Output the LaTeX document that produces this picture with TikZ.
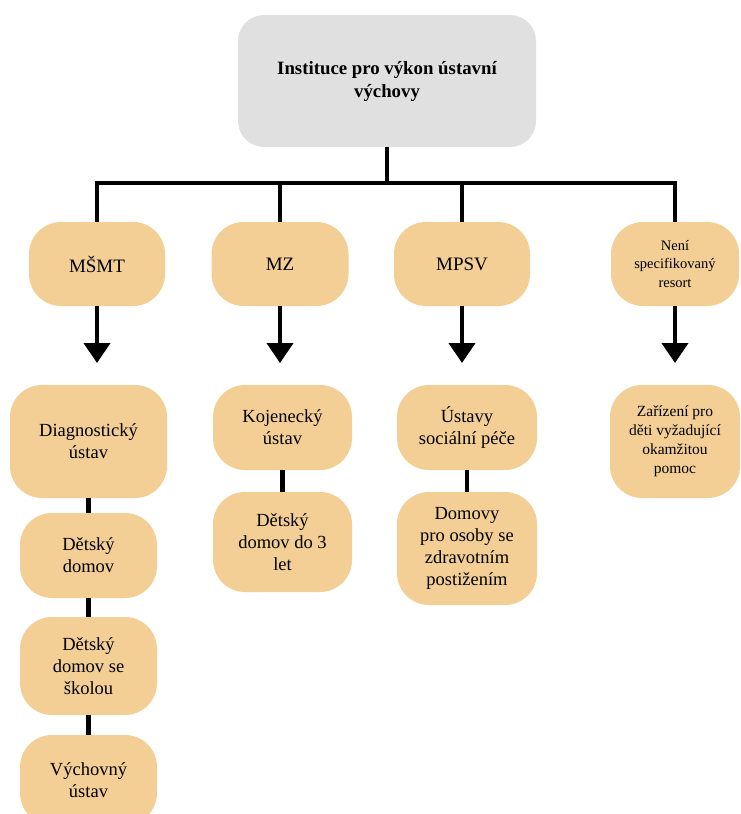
\documentclass[tikz,border=0pt]{standalone}
\usepackage{fontspec}
\setmainfont{Liberation Serif}
\usetikzlibrary{arrows.meta}
\definecolor{boxorange}{RGB}{243,206,149}
\definecolor{boxgray}{RGB}{224,224,224}
\begin{document}
\begin{tikzpicture}[x=1pt,y=-1pt,
  orgbox/.style={rectangle, rounded corners=32pt, fill=boxorange, align=center, inner sep=2pt, font=\fontsize{18.5}{22}\selectfont},
  topbox/.style={rectangle, rounded corners=26pt, fill=boxgray, align=center, inner sep=2pt, font=\bfseries\fontsize{18.8}{23}\selectfont, minimum width=298pt, minimum height=132pt},
  lvlone/.style={orgbox, minimum width=136pt, minimum height=84pt, font=\fontsize{19}{22}\selectfont},
  conn/.style={line width=4pt, black},
  arr/.style={line width=4pt, black, -{Triangle[width=26pt,length=20pt]}},
  link/.style={line width=4.5pt, black}
]
\useasboundingbox (0,0) rectangle (740,814);
\clip (0,0) rectangle (740,814);

\node[topbox] (top) at (387,81) {Instituce pro výkon ústavní\\výchovy};

\node[lvlone] (m1) at (97,264) {MŠMT};
\node[lvlone, minimum width=137pt] (m2) at (280,264) {MZ};
\node[lvlone] (m3) at (462,264) {MPSV};
\node[lvlone, minimum width=128pt, font=\fontsize{14.5}{18.5}\selectfont] (m4) at (675,264) {Není\\specifikovaný\\resort};

\coordinate (bus) at (387,183);
\draw[conn] (top.south) -- (bus);
\draw[conn] (m1.north) -- (m1.north |- bus) -- (m4.north |- bus) -- (m4.north);
\draw[conn] (m2.north) -- (m2.north |- bus);
\draw[conn] (m3.north) -- (m3.north |- bus);

\coordinate (a1) at (97,363);
\coordinate (a2) at (280,363);
\coordinate (a3) at (462,363);
\coordinate (a4) at (675,363);
\draw[arr] (m1.south) -- (a1);
\draw[arr] (m2.south) -- (a2);
\draw[arr] (m3.south) -- (a3);
\draw[arr] (m4.south) -- (a4);

% MSMT column
\node[orgbox, minimum width=157pt, minimum height=113pt] (diag) at (88.5,441.5) {Diagnostický\\ústav};
\node[orgbox, minimum width=137pt, minimum height=85pt] (dd) at (88.5,555.5) {Dětský\\domov};
\node[orgbox, minimum width=137pt, minimum height=98pt] (dds) at (88.5,666) {Dětský\\domov se\\školou};
\node[orgbox, minimum width=137pt, minimum height=90pt] (vu) at (88.5,780) {Výchovný\\ústav};
\draw[link] (diag.south) -- (dd.north);
\draw[link] (dd.south) -- (dds.north);
\draw[link] (dds.south) -- (vu.north);

% MZ column
\node[orgbox, minimum width=139pt, minimum height=85pt] (koj) at (282.5,427.5) {Kojenecký\\ústav};
\node[orgbox, minimum width=139pt, minimum height=100pt] (dd3) at (282.5,542) {Dětský\\domov do 3\\let};
\draw[link] (koj.south) -- (dd3.north);

% MPSV column
\node[orgbox, minimum width=140pt, minimum height=85pt] (us) at (467,427.5) {Ústavy\\sociální péče};
\node[orgbox, minimum width=140pt, minimum height=113pt] (dom) at (467,548.5) {Domovy\\pro osoby se\\zdravotním\\postižením};
\draw[link] (us.south) -- (dom.north);

% unspecified
\node[orgbox, minimum width=130pt, minimum height=113pt, font=\fontsize{15.5}{19}\selectfont] (zar) at (675,441.5) {Zařízení pro\\děti vyžadující\\okamžitou\\pomoc};
\end{tikzpicture}
\end{document}
